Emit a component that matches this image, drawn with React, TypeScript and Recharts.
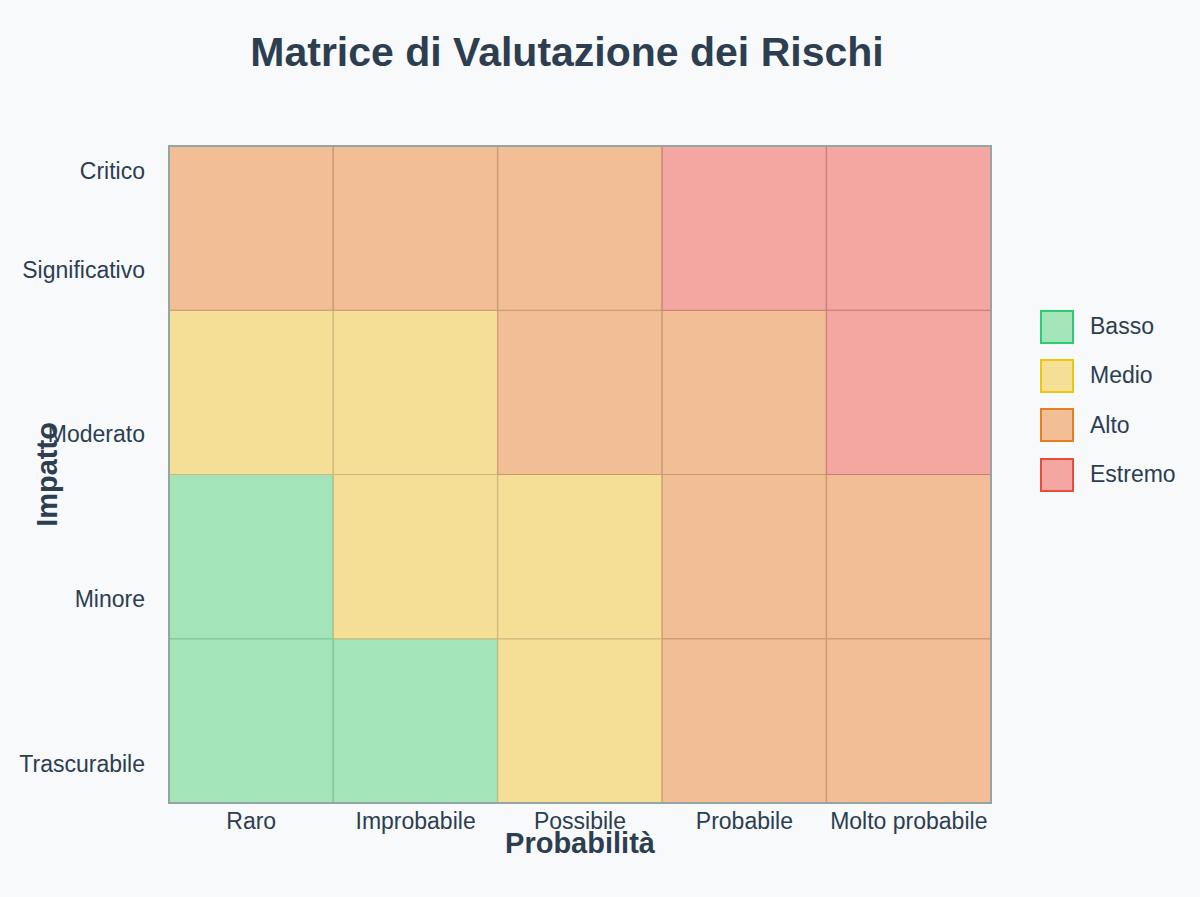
import { BarChart, Bar, XAxis, YAxis, Legend, Cell } from 'recharts';

const PROBABILITA = ['Raro', 'Improbabile', 'Possibile', 'Probabile', 'Molto probabile'];
const IMPATTO = ['Trascurabile', 'Minore', 'Moderato', 'Significativo', 'Critico'];
// posizioni delle etichette sull'asse Y (unità della griglia, 0 = fondo)
const IMPATTO_TICKS = [0.24, 1.24, 2.245, 3.245, 3.85];

// righe dal basso verso l'alto
const RIGA_0 = ['Basso', 'Basso', 'Medio', 'Alto', 'Alto'];
const RIGA_1 = ['Basso', 'Medio', 'Medio', 'Alto', 'Alto'];
const RIGA_2 = ['Medio', 'Medio', 'Alto', 'Alto', 'Estremo'];
const RIGA_3 = ['Alto', 'Alto', 'Alto', 'Estremo', 'Estremo'];
const RIGHE = [RIGA_0, RIGA_1, RIGA_2, RIGA_3];

const LIVELLI = [
  { name: 'Basso', fill: '#a3e4b9', border: '#2ecc71', stroke: '#80c497' },
  { name: 'Medio', fill: '#f5df97', border: '#f1c40f', stroke: '#cdb77a' },
  { name: 'Alto', fill: '#f2be96', border: '#e67e22', stroke: '#c99670' },
  { name: 'Estremo', fill: '#f4a7a0', border: '#e74c3c', stroke: '#c97b76' },
];

const TEXT = '#2c3e50';
const BORDO = '#95a5a6';
const FONT = '"Liberation Sans", Arial, Helvetica, sans-serif';

const livello = (n: string) => LIVELLI.find(l => l.name === n)!;

const data = PROBABILITA.map(p => ({ name: p, r0: 1, r1: 1, r2: 1, r3: 1 }));

function LegendaRischio() {
  return (
    <div style={{ fontFamily: FONT }}>
      {LIVELLI.map(l => (
        <div key={l.name} style={{ display: 'flex', alignItems: 'center', height: 49.3 }}>
          <div
            style={{
              width: 30,
              height: 30,
              background: l.fill,
              border: `2px solid ${l.border}`,
              marginRight: 16,
            }}
          />
          <span style={{ fontSize: 23, color: TEXT }}>{l.name}</span>
        </div>
      ))}
    </div>
  );
}

export default function App() {
  return (
    <div style={{ position: 'fixed', inset: 0, background: '#f7f9fb' }}>
      <div
        style={{
          position: 'absolute',
          top: 31,
          left: 0,
          width: 1134,
          textAlign: 'center',
          fontFamily: FONT,
          fontWeight: 'bold',
          fontSize: 41,
          lineHeight: '42px',
          color: TEXT,
        }}
      >
        Matrice di Valutazione dei Rischi
      </div>
      <div style={{ position: 'absolute', top: 0, left: 0 }}>
        <BarChart
          width={1200}
          height={897}
          data={data}
          margin={{ top: 146, right: 209, bottom: 0, left: 9 }}
          barCategoryGap={0}
          barGap={0}
          style={{ fontFamily: FONT }}
        >
          <XAxis
            dataKey="name"
            height={94}
            axisLine={false}
            tickLine={false}
            tickSize={0}
            tickMargin={10}
            interval={0}
            tick={{ fontSize: 23, fill: TEXT, fontFamily: FONT }}
            label={{
              content: ({ viewBox }: any) => (
                <text
                  x={viewBox.x + viewBox.width / 2}
                  y={viewBox.y + 50}
                  textAnchor="middle"
                  fontSize={29}
                  fontWeight="bold"
                  fill={TEXT}
                  fontFamily={FONT}
                >
                  Probabilità
                </text>
              ),
            }}
          />
          <YAxis
            type="number"
            domain={[0, 4]}
            ticks={IMPATTO_TICKS}
            interval={0}
            width={160}
            axisLine={false}
            tickLine={false}
            tickSize={0}
            tickMargin={24}
            allowDataOverflow
            tickFormatter={(_v: number, i: number) => IMPATTO[i]}
            tick={{ fontSize: 23, fill: TEXT, fontFamily: FONT }}
            label={{
              content: ({ viewBox }: any) => {
                const x = viewBox.x + 38;
                const y = viewBox.y + viewBox.height / 2;
                return (
                  <text
                    x={x}
                    y={y}
                    transform={`rotate(-90 ${x} ${y})`}
                    textAnchor="middle"
                    dominantBaseline="central"
                    fontSize={29}
                    fontWeight="bold"
                    fill={TEXT}
                    fontFamily={FONT}
                  >
                    Impatto
                  </text>
                );
              },
            }}
          />
          {RIGHE.map((riga, r) => (
            <Bar key={r} dataKey={`r${r}`} stackId="m" isAnimationActive={false}>
              {riga.map((liv, i) => (
                <Cell key={i} fill={livello(liv).fill} stroke={livello(liv).stroke} strokeWidth={1} />
              ))}
            </Bar>
          ))}
          <Legend
            layout="vertical"
            align="center"
            verticalAlign="middle"
            wrapperStyle={{ left: 1040, top: 302, width: 150 }}
            content={() => <LegendaRischio />}
          />
        </BarChart>
      </div>
      {/* cornice dell'area del grafico */}
      <div
        style={{
          position: 'absolute',
          left: 168,
          top: 145,
          width: 824,
          height: 659,
          boxSizing: 'border-box',
          border: `2px solid ${BORDO}`,
          pointerEvents: 'none',
        }}
      />
    </div>
  );
}
